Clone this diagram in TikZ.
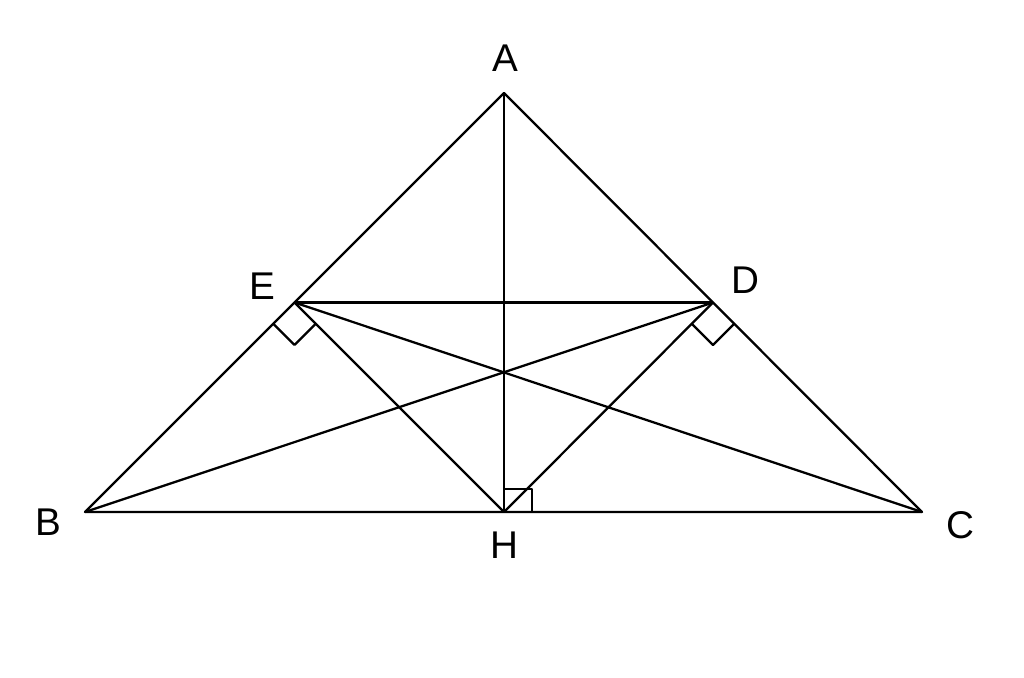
\documentclass[tikz,border=0pt]{standalone}
\usepackage{fontspec}
\setmainfont{Liberation Sans}
\usetikzlibrary{calc}

\begin{document}
\begin{tikzpicture}[x = 0.02cm, y = -0.02cm, line width = 1.3pt, line join = round,
	lbl/.style = {inner sep = 0pt, font = \fontsize{22}{26}\selectfont}]

	% Definitions

	\def\rs{0.6cm}		% Size of right angle marks

	\useasboundingbox (0, 0) rectangle (1024, 677);

	% Vertices of the triangle and the foot of the altitude

	\coordinate (A) at (504, 93);
	\coordinate (B) at (85, 512);
	\coordinate (C) at (922, 512);
	\coordinate (H) at (504, 512);

	% Feet of the perpendiculars from H

	\coordinate (E) at ($(A)!0.5!(B)$);
	\coordinate (D) at ($(A)!0.5!(C)$);

	% Triangle

	\draw (A) -- (B) -- (C) -- cycle;

	% Altitude and perpendiculars

	\draw (A) -- (H);
	\draw (E) -- (H) -- (D);
	\draw (E) -- (D);

	% Diagonals

	\draw (B) -- (D);
	\draw (C) -- (E);

	% Right angle marks

	\draw ($(E)!\rs!(B)$) -- ($(E)!\rs!(B) + (E)!\rs!(H) - (E)$) -- ($(E)!\rs!(H)$);
	\draw ($(D)!\rs!(H)$) -- ($(D)!\rs!(H) + (D)!\rs!(C) - (D)$) -- ($(D)!\rs!(C)$);
	\draw ($(H) + (0, -23)$) -- ++(28, 0) -- ++(0, 23);

	% Labels

	\node [lbl] (lA) at ($(A) + (1, -35)$) {A};
	\node [lbl] (lB) at ($(B) + (-37, 10)$) {B};
	\node [lbl] (lC) at ($(C) + (38, 13)$) {C};
	\node [lbl] (lH) at ($(H) + (0, 33)$) {H};
	\node [lbl] (lE) at ($(E) + (-32, -16)$) {E};
	\node [lbl] (lD) at ($(D) + (32, -22)$) {D};

\end{tikzpicture}
\end{document}
